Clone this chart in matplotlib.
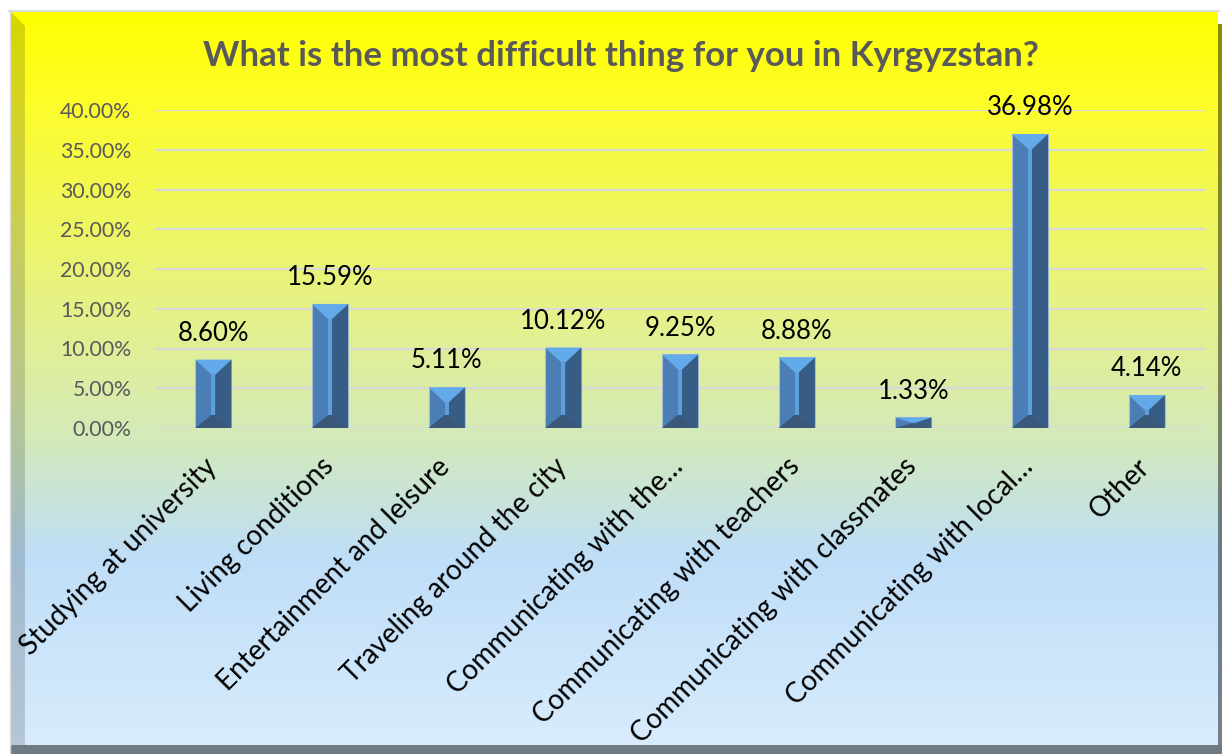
import matplotlib
matplotlib.use("Agg")
import matplotlib.pyplot as plt
from matplotlib.patches import Polygon, Rectangle
from matplotlib.transforms import ScaledTranslation
import numpy as np

plt.rcParams['font.family'] = ['Lato', 'DejaVu Sans']

title = "What is the most difficult thing for you in Kyrgyzstan?"
categories = ["Studying at university", "Living conditions", "Entertainment and leisure",
              "Traveling around the city", "Communicating with the\u2026",
              "Communicating with teachers", "Communicating with classmates",
              "Communicating with local\u2026", "Other"]
values = [8.60, 15.59, 5.11, 10.12, 9.25, 8.88, 1.33, 36.98, 4.14]
yticks = [0, 5, 10, 15, 20, 25, 30, 35, 40]

W, H = 1222, 754
fig = plt.figure(figsize=(W / 100, H / 100), dpi=100)

# background / frame in pixel coordinates
bg = fig.add_axes([0, 0, 1, 1])
bg.set_xlim(0, W)
bg.set_ylim(H, 0)
bg.axis('off')

stops = [(0.0, (255, 255, 0)), (0.12, (253, 253, 40)), (0.42, (228, 241, 140)),
         (0.58, (212, 234, 185)), (0.74, (191, 222, 247)), (1.0, (216, 236, 253))]
n = 400
t = np.linspace(0, 1, n)
grad = np.zeros((n, 1, 3))
for c in range(3):
    grad[:, 0, c] = np.interp(t, [s[0] for s in stops], [s[1][c] for s in stops]) / 255
bg.imshow(grad, extent=(10, 1218, 745, 11), aspect='auto', zorder=0)
# left bevel (darker copy of gradient)
bg.imshow(grad * 0.84, extent=(10, 25, 745, 11), aspect='auto', zorder=1)
bg.add_patch(Polygon([(10, 11), (25, 26), (25, 11)], closed=True,
                     facecolor=(1, 1, 0), edgecolor='none', zorder=2))
# right bevel
bg.imshow(grad * 0.55, extent=(1218, 1222, 745, 24), aspect='auto', zorder=1)
# bottom bevel
bg.add_patch(Rectangle((10, 745), 1212, 9, facecolor='#6E7A84', edgecolor='none', zorder=2))
bg.plot([9, 1219], [10.5, 10.5], color='#DCDCDC', lw=1.5, zorder=3)
bg.plot([9.5, 9.5], [10, 754], color='#DCDCDC', lw=1.0, zorder=3)

bg.text(621, 56, title, ha='center', va='center', fontsize=25, fontweight='bold',
        color='#595959', zorder=5)

# plot area
ax_l, ax_r, ax_t, ax_b = 155, 1205, 110, 428
ax = fig.add_axes([ax_l / W, (H - ax_b) / H, (ax_r - ax_l) / W, (ax_b - ax_t) / H])
ax.set_facecolor('none')
x = np.arange(len(values))
ax.set_xlim(-0.5, len(values) - 0.5)
ax.set_ylim(0, 40)
for s in ax.spines.values():
    s.set_visible(False)
ax.set_yticks(yticks)
ax.set_yticklabels([f"{v:.2f}%" for v in yticks])
ax.yaxis.grid(True, color='#D9D9D9', lw=1.6)
ax.set_axisbelow(True)
ax.tick_params(axis='y', length=0, pad=17, labelsize=15.3, labelcolor='#595959')
ax.tick_params(axis='x', length=0, pad=6, labelsize=20, labelcolor='black')
ax.set_xticks(x)
ax.set_xticklabels(categories, rotation=45, ha='right', rotation_mode='anchor')
shift = ScaledTranslation(-10 / 100, -17 / 100, fig.dpi_scale_trans)
for lab in ax.get_xticklabels():
    lab.set_transform(lab.get_transform() + shift)

bw = 0.31
py = 40 / (ax_b - ax_t)            # data units per pixel (y)
px = len(values) / (ax_r - ax_l)   # data units per pixel (x)
bars = ax.bar(x, values, width=bw, color='#4A7EB5', edgecolor='#A9BED6', lw=0.8, zorder=3)
for xi, h in zip(x, values):
    x0, x1 = xi - bw / 2, xi + bw / 2
    hp = h / py
    dt = min(15, hp * 0.5) * py
    db = min(13, hp * 0.45) * py
    s = 2 * px
    ax.add_patch(Polygon([(xi + s, h - dt), (x1, h), (x1, 0), (xi + s, db)],
                         facecolor='#375D86', edgecolor='none', zorder=4))
    ax.add_patch(Rectangle((xi - s, db), 2 * s, max(h - dt - db, 0),
                           facecolor='#5D9FDC', edgecolor='none', zorder=4))
    ax.add_patch(Polygon([(x0, h), (x1, h), (xi + s, h - dt), (xi - s, h - dt)],
                         facecolor='#63AAEA', edgecolor='none', zorder=5))
    ax.add_patch(Polygon([(x0, 0), (x1, 0), (xi + s, db), (xi - s, db)],
                         facecolor='#3A5879', edgecolor='none', zorder=5))
    ax.annotate(f"{h:.2f}%", (xi, h), xytext=(0, 10), textcoords='offset points',
                ha='center', va='bottom', fontsize=18.5, color='black', zorder=6)

fig.savefig("out.png", dpi=100)
